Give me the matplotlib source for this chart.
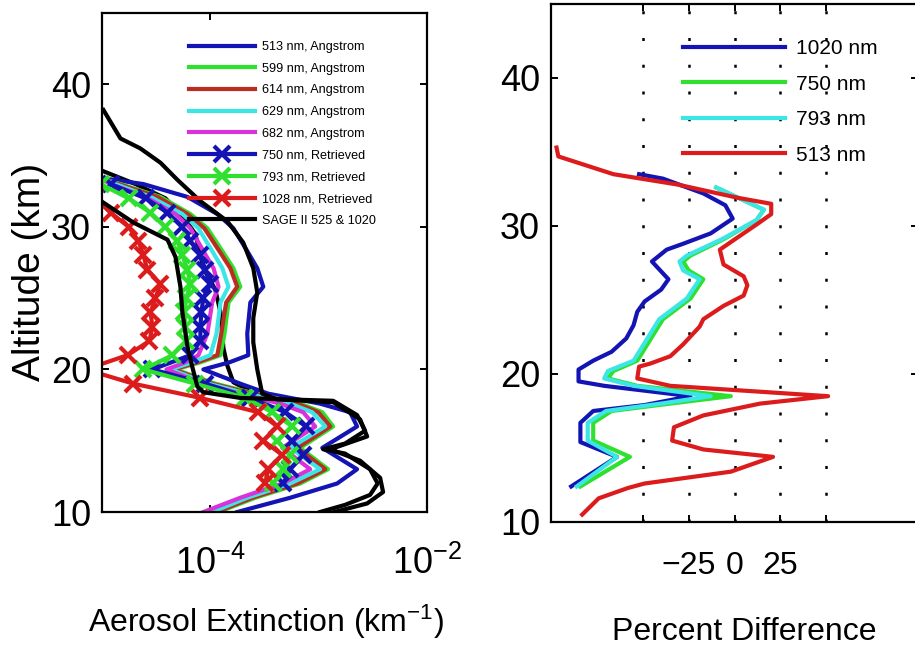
import numpy as np
import matplotlib
matplotlib.use("Agg")
import matplotlib.pyplot as plt

plt.rcParams['font.family'] = ['Liberation Sans', 'DejaVu Sans']
plt.rcParams['mathtext.fontset'] = 'custom'
plt.rcParams['mathtext.rm'] = 'Liberation Sans'
plt.rcParams['mathtext.it'] = 'Liberation Sans'

# ---------------- left panel: aerosol extinction (km^-1) ----------------
alt_ang = [10.0, 11.0, 12.0, 13.0, 14.5, 16.0, 17.0, 17.6, 18.3, 19.0, 20.0, 20.5,
           21.0, 22.5, 24.7, 25.8, 27.1, 28.3, 29.9, 30.9, 32.1, 33.0, 33.4]
ext_513 = [1.77e-4, 5.46e-4, 1.48e-3, 2.26e-3, 1.08e-3, 2.26e-3, 1.95e-3, 1.03e-3, 3.42e-4,
           1.89e-4, 8.62e-5, 1.50e-4, 2.24e-4, 2.19e-4, 2.34e-4, 3.08e-4, 2.71e-4, 2.19e-4,
           1.63e-4, 1.16e-4, 6.14e-5, 2.41e-5, 1.03e-5]
ext_599 = [1.19e-4, 2.60e-4, 6.75e-4, 1.22e-3, 6.75e-4, 1.36e-3, 1.08e-3, 6.75e-4, 2.60e-4,
           1.11e-4, 4.76e-5, 8.09e-5, 1.24e-4, 1.35e-4, 1.47e-4, 1.89e-4, 1.63e-4, 1.29e-4,
           9.38e-5, 6.54e-5, 3.46e-5, 1.48e-5, 9.7e-6]
ext_614 = [1.14e-4, 2.44e-4, 6.34e-4, 1.15e-3, 6.34e-4, 1.28e-3, 9.90e-4, 6.34e-4, 2.44e-4,
           1.04e-4, 4.56e-5, 7.59e-5, 1.16e-4, 1.26e-4, 1.40e-4, 1.77e-4, 1.53e-4, 1.21e-4,
           8.80e-5, 6.14e-5, 3.25e-5, 1.42e-5, 9.7e-6]
ext_629 = [1.04e-4, 2.19e-4, 5.46e-4, 1.03e-3, 5.46e-4, 1.15e-3, 8.71e-4, 5.46e-4, 2.19e-4,
           9.60e-5, 4.28e-5, 6.80e-5, 1.00e-4, 1.14e-4, 1.24e-4, 1.47e-4, 1.29e-4, 1.04e-4,
           7.75e-5, 5.52e-5, 2.80e-5, 1.33e-5, 9.7e-6]
ext_682 = [8.62e-5, 1.89e-4, 4.61e-4, 8.35e-4, 4.61e-4, 9.29e-4, 7.19e-4, 4.42e-4, 1.89e-4,
           8.62e-5, 3.93e-5, 5.88e-5, 7.75e-5, 9.38e-5, 1.04e-4, 1.19e-4, 1.07e-4, 8.62e-5,
           6.54e-5, 4.76e-5, 2.52e-5, 1.20e-5, 9.7e-6]

alt_ret = [12, 13, 14, 15, 16, 17, 18, 19, 20, 21, 22, 23, 24, 25, 26, 27, 28, 29, 30, 31, 32, 33]
ret_750 = [4.71e-4, 5.46e-4, 7.19e-4, 5.70e-4, 7.67e-4, 4.91e-4, 2.34e-4, 8.99e-5, 2.92e-5,
           6.54e-5, 8.09e-5, 8.09e-5, 8.26e-5, 8.62e-5, 1.00e-4, 8.99e-5, 8.09e-5, 6.54e-5,
           5.52e-5, 4.02e-5, 2.52e-5, 1.20e-5]
ret_793 = [3.81e-4, 4.71e-4, 5.46e-4, 4.15e-4, 5.70e-4, 3.73e-4, 2.10e-4, 7.27e-5, 2.41e-5,
           4.46e-5, 6.01e-5, 5.88e-5, 5.76e-5, 6.01e-5, 6.54e-5, 6.14e-5, 5.52e-5, 4.96e-5,
           3.85e-5, 2.80e-5, 1.76e-5, 9.7e-6]
ret_1028 = [3.21e-4, 3.42e-4, 4.61e-4, 3.08e-4, 4.15e-4, 2.77e-4, 8.09e-5, 1.95e-5, 7.05e-6,
            1.72e-5, 2.74e-5, 2.92e-5, 2.80e-5, 3.11e-5, 3.46e-5, 2.62e-5, 2.41e-5, 2.17e-5,
            1.76e-5, 1.20e-5, 8.7e-6, 7.0e-6]

sage_a_alt = [38.2, 36.2, 35.5, 34.5, 33.3, 31.8, 30.4, 28.9, 27.1, 25.4, 23.6, 21.9, 20.0,
              18.3, 17.9, 17.7, 16.5, 15.3, 14.4, 13.6, 12.4, 11.4, 10.6, 10.0]
sage_a = [1.03e-5, 1.48e-5, 2.26e-5, 3.46e-5, 4.96e-5, 8.09e-5, 1.43e-4, 2.01e-4, 2.49e-4,
          2.71e-4, 2.49e-4, 2.49e-4, 2.71e-4, 3.01e-4, 4.15e-4, 1.36e-3, 2.41e-3, 2.80e-3,
          1.28e-3, 2.41e-3, 3.69e-3, 3.93e-3, 2.80e-3, 1.40e-3]
sage_b_alt = [33.9, 33.0, 32.0, 30.5, 29.5, 28.9, 27.1, 25.6, 24.0, 21.5, 20.3, 19.1, 18.6]
sage_b = [1.03e-5, 2.04e-5, 3.85e-5, 5.88e-5, 7.27e-5, 7.59e-5, 8.62e-5, 1.11e-4, 1.24e-4,
          1.32e-4, 1.43e-4, 1.63e-4, 2.19e-4]
sage_c_alt = [31.7, 30.3, 29.1, 27.9, 25.8, 24.0, 21.6, 20.2, 18.8, 18.4, 18.0, 17.8, 16.8,
              15.7, 14.8, 14.4, 14.1, 13.0, 12.0, 11.2, 10.5, 10.0]
sage_c = [1.03e-5, 1.95e-5, 4.02e-5, 4.76e-5, 5.29e-5, 5.52e-5, 6.14e-5, 6.80e-5, 7.59e-5,
          8.62e-5, 1.89e-4, 1.36e-3, 2.26e-3, 2.68e-3, 1.75e-3, 1.10e-3, 1.75e-3, 2.98e-3,
          3.50e-3, 2.98e-3, 1.75e-3, 1.03e-3]

# ---------------- right panel: percent difference ----------------
pd_1020_alt = [33.5, 33.2, 32.2, 31.4, 30.5, 29.5, 28.8, 28.4, 27.6, 27.2, 26.4, 25.7, 24.9,
               24.2, 23.3, 22.4, 21.5, 20.9, 20.3, 19.5, 19.2, 18.5, 17.9, 17.5, 16.7, 15.4,
               14.4, 12.4]
pd_1020 = [-52, -39, -17, -5, -1, -13, -28, -37, -45, -42, -36, -40, -49, -53, -55, -59, -67,
           -77, -85, -85, -71, -24, -49, -77, -84, -84, -64, -89]
pd_750_alt = [32.6, 31.1, 30.4, 29.1, 28.0, 27.6, 27.0, 26.4, 25.1, 23.7, 22.3, 20.9, 20.2,
              19.7, 19.2, 18.5, 18.0, 17.5, 16.7, 15.5, 14.4, 12.4]
pd_750 = [-10, 16, 12, -6, -24, -28, -25, -17, -24, -39, -46, -53, -66, -69, -53, -2, -35,
          -67, -77, -77, -57, -84]
pd_793 = [-10, 16, 12, -7, -26, -30, -28, -19, -26, -41, -48, -55, -69, -71, -55, -13, -40,
          -70, -80, -80, -64, -86]
pd_513_alt = [35.3, 34.7, 33.5, 32.8, 31.9, 31.5, 30.8, 30.1, 29.0, 28.4, 27.4, 26.6, 26.0,
              25.3, 24.6, 23.7, 23.2, 22.0, 21.2, 20.7, 20.5, 19.7, 19.2, 18.5, 18.0, 17.2,
              16.4, 15.5, 14.9, 14.4, 13.4, 12.6, 12.3, 11.6, 10.5]
pd_513 = [-97, -96, -66, -31, 2, 20, 20, 12, -1, -8, -6, 5, 7, 5, -6, -17, -19, -28, -35,
          -46, -52, -53, -35, 51, 14, -17, -33, -34, -17, 21, -2, -49, -58, -74, -83]

pct_ticks = [-50, -25, 0, 25, 50]
pct_labels = ['', '\u221225', '0', '25', '']

C_BLUE = '#1414b4'
C_GREEN = '#2fe02f'
C_RED = '#dc1c1c'
C_BROWN = '#bb2c22'
C_CYAN = '#3ce6e6'
C_MAG = '#d832d8'
LW = 3.0

fig = plt.figure(figsize=(9.15, 6.56), dpi=100)
ax1 = fig.add_axes([0.1115, 0.2195, 0.3552, 0.7607])
ax2 = fig.add_axes([0.6022, 0.2043, 0.4011, 0.7896])

ax1.plot(ext_513, alt_ang, color=C_BLUE, lw=LW, label='513 nm, Angstrom')
ax1.plot(ext_599, alt_ang, color=C_GREEN, lw=LW, label='599 nm, Angstrom')
ax1.plot(ext_614, alt_ang, color=C_BROWN, lw=LW, label='614 nm, Angstrom')
ax1.plot(ext_629, alt_ang, color=C_CYAN, lw=LW, label='629 nm, Angstrom')
ax1.plot(ext_682, alt_ang, color=C_MAG, lw=LW, label='682 nm, Angstrom')
mk = dict(marker='x', ms=11, mew=3.0)
ax1.plot(ret_750, alt_ret, color=C_BLUE, lw=LW, label='750 nm, Retrieved', **mk)
ax1.plot(ret_793, alt_ret, color=C_GREEN, lw=LW, label='793 nm, Retrieved', **mk)
ax1.plot(ret_1028, alt_ret, color=C_RED, lw=LW, label='1028 nm, Retrieved', **mk)
ax1.plot(sage_b, sage_b_alt, color='black', lw=LW, zorder=1)
ax1.plot(sage_a, sage_a_alt, color='black', lw=LW, label='SAGE II 525 & 1020')
ax1.plot(sage_c, sage_c_alt, color='black', lw=LW)

ax1.set_xscale('log')
ax1.set_xlim(1e-5, 1e-2)
ax1.set_ylim(10, 45)
ax1.set_xticks([1e-4, 1e-2])
ax1.set_xticklabels(['$10^{-4}$', '$10^{-2}$'])
ax1.xaxis.set_minor_locator(matplotlib.ticker.NullLocator())
ax1.set_yticks([10, 20, 30, 40])
ax1.legend(loc='upper left', bbox_to_anchor=(0.268, 0.944), frameon=False,
           fontsize=9.1, handlelength=5.2, handletextpad=0.6, labelspacing=0.77,
           borderpad=0, borderaxespad=0)

ax2.plot(pd_1020, pd_1020_alt, color=C_BLUE, lw=LW, label='1020 nm')
ax2.plot(pd_750, pd_750_alt, color=C_GREEN, lw=LW, label='750 nm')
ax2.plot(pd_793, pd_750_alt, color=C_CYAN, lw=LW, label='793 nm')
ax2.plot(pd_513, pd_513_alt, color=C_RED, lw=LW, label='513 nm')
ax2.set_xlim(-100, 100)
ax2.set_ylim(10, 45)
ax2.set_xticks(pct_ticks)
ax2.set_xticklabels(pct_labels)
ax2.set_yticks([10, 20, 30, 40])
ax2.grid(axis='x', color='black', linestyle=(0, (1.2, 9.5)), linewidth=1.8)
ax2.legend(loc='upper left', bbox_to_anchor=(0.36, 0.932), frameon=False,
           fontsize=15, handlelength=4.9, handletextpad=0.5, labelspacing=0.79,
           borderpad=0, borderaxespad=0)

for ax in (ax1, ax2):
    for s in ax.spines.values():
        s.set_linewidth(1.6)
    ax.tick_params(direction='in', top=True, right=True, length=5, width=1.4,
                   labelsize=26)
    ax.tick_params(axis='y', pad=8)
ax1.tick_params(axis='x', pad=24)
ax2.tick_params(axis='x', pad=21, labelsize=23)

fig.text(0.2907, 0.052, 'Aerosol Extinction (km$^{-1}$)', ha='center', va='center',
         fontsize=23)
fig.text(0.8131, 0.036, 'Percent Difference', ha='center', va='center', fontsize=23)
fig.text(0.033, 0.585, 'Altitude (km)', ha='center', va='center', rotation=90,
         fontsize=28)

fig.savefig('out.png', dpi=100)
